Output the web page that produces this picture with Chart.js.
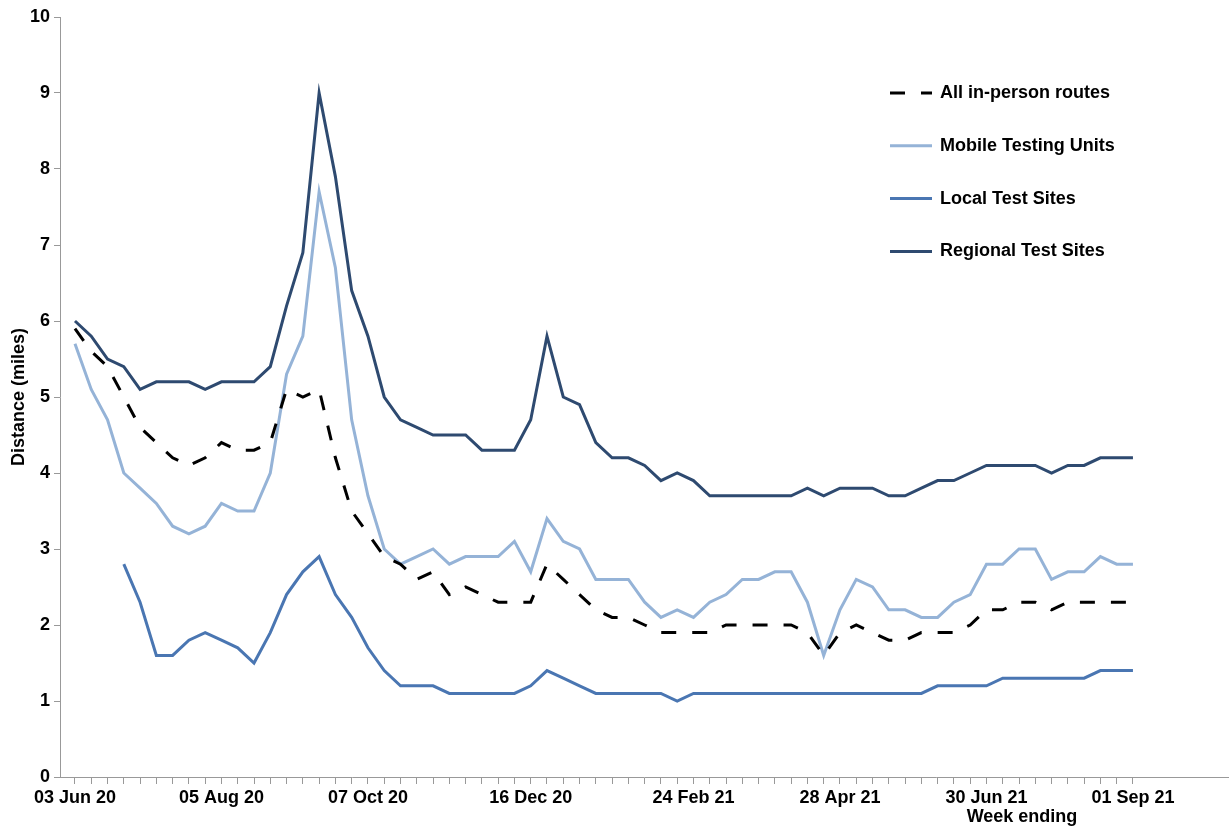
<!DOCTYPE html>
<html>
<head>
<meta charset="utf-8">
<script src="https://cdn.jsdelivr.net/npm/chart.js@4.4.1/dist/chart.umd.min.js"></script>
<style>
  html, body { margin: 0; padding: 0; background: #fff; }
  #wrap { width: 1229px; height: 827px; }
</style>
</head>
<body>
<div id="wrap"><canvas id="lineChart" width="1229" height="827"></canvas></div>
<script>
// Week ending dates (one point per week)
var weeks = [
  '03 Jun 20', '10 Jun 20', '17 Jun 20', '24 Jun 20', '01 Jul 20', '08 Jul 20', '15 Jul 20', '22 Jul 20', '29 Jul 20', '05 Aug 20',
  '12 Aug 20', '19 Aug 20', '26 Aug 20', '02 Sep 20', '09 Sep 20', '16 Sep 20', '23 Sep 20', '30 Sep 20', '07 Oct 20', '14 Oct 20',
  '21 Oct 20', '28 Oct 20', '04 Nov 20', '11 Nov 20', '18 Nov 20', '25 Nov 20', '02 Dec 20', '09 Dec 20', '16 Dec 20', '23 Dec 20',
  '30 Dec 20', '06 Jan 21', '13 Jan 21', '20 Jan 21', '27 Jan 21', '03 Feb 21', '10 Feb 21', '17 Feb 21', '24 Feb 21', '03 Mar 21',
  '10 Mar 21', '17 Mar 21', '24 Mar 21', '31 Mar 21', '07 Apr 21', '14 Apr 21', '21 Apr 21', '28 Apr 21', '05 May 21', '12 May 21',
  '19 May 21', '26 May 21', '02 Jun 21', '09 Jun 21', '16 Jun 21', '23 Jun 21', '30 Jun 21', '07 Jul 21', '14 Jul 21', '21 Jul 21',
  '28 Jul 21', '04 Aug 21', '11 Aug 21', '18 Aug 21', '25 Aug 21', '01 Sep 21'
];
var shownWeeks = ['03 Jun 20', '05 Aug 20', '07 Oct 20', '16 Dec 20', '24 Feb 21', '28 Apr 21', '30 Jun 21', '01 Sep 21'];

// Median distance (miles)
var allRoutes = [
  5.9, 5.6, 5.4, 5.0, 4.6, 4.4, 4.2, 4.1, 4.2, 4.4,
  4.3, 4.3, 4.4, 5.1, 5.0, 5.1, 4.2, 3.5, 3.2, 2.9,
  2.8, 2.6, 2.7, 2.4, 2.5, 2.4, 2.3, 2.3, 2.3, 2.8,
  2.6, 2.4, 2.2, 2.1, 2.1, 2.0, 1.9, 1.9, 1.9, 1.9,
  2.0, 2.0, 2.0, 2.0, 2.0, 1.9, 1.6, 1.9, 2.0, 1.9,
  1.8, 1.8, 1.9, 1.9, 1.9, 2.0, 2.2, 2.2, 2.3, 2.3,
  2.2, 2.3, 2.3, 2.3, 2.3, 2.3
];
var mobileUnits = [
  5.7, 5.1, 4.7, 4.0, 3.8, 3.6, 3.3, 3.2, 3.3, 3.6,
  3.5, 3.5, 4.0, 5.3, 5.8, 7.7, 6.7, 4.7, 3.7, 3.0,
  2.8, 2.9, 3.0, 2.8, 2.9, 2.9, 2.9, 3.1, 2.7, 3.4,
  3.1, 3.0, 2.6, 2.6, 2.6, 2.3, 2.1, 2.2, 2.1, 2.3,
  2.4, 2.6, 2.6, 2.7, 2.7, 2.3, 1.6, 2.2, 2.6, 2.5,
  2.2, 2.2, 2.1, 2.1, 2.3, 2.4, 2.8, 2.8, 3.0, 3.0,
  2.6, 2.7, 2.7, 2.9, 2.8, 2.8
];
var localSites = [
  null, null, null, 2.8, 2.3, 1.6, 1.6, 1.8, 1.9, 1.8,
  1.7, 1.5, 1.9, 2.4, 2.7, 2.9, 2.4, 2.1, 1.7, 1.4,
  1.2, 1.2, 1.2, 1.1, 1.1, 1.1, 1.1, 1.1, 1.2, 1.4,
  1.3, 1.2, 1.1, 1.1, 1.1, 1.1, 1.1, 1.0, 1.1, 1.1,
  1.1, 1.1, 1.1, 1.1, 1.1, 1.1, 1.1, 1.1, 1.1, 1.1,
  1.1, 1.1, 1.1, 1.2, 1.2, 1.2, 1.2, 1.3, 1.3, 1.3,
  1.3, 1.3, 1.3, 1.4, 1.4, 1.4
];
var regionalSites = [
  6.0, 5.8, 5.5, 5.4, 5.1, 5.2, 5.2, 5.2, 5.1, 5.2,
  5.2, 5.2, 5.4, 6.2, 6.9, 9.0, 7.9, 6.4, 5.8, 5.0,
  4.7, 4.6, 4.5, 4.5, 4.5, 4.3, 4.3, 4.3, 4.7, 5.8,
  5.0, 4.9, 4.4, 4.2, 4.2, 4.1, 3.9, 4.0, 3.9, 3.7,
  3.7, 3.7, 3.7, 3.7, 3.7, 3.8, 3.7, 3.8, 3.8, 3.8,
  3.7, 3.7, 3.8, 3.9, 3.9, 4.0, 4.1, 4.1, 4.1, 4.1,
  4.0, 4.1, 4.1, 4.2, 4.2, 4.2
];

var FONT = '"Liberation Sans", Arial, sans-serif';

function points(values) {
  return values.map(function (v, i) { return { x: i, y: v }; });
}

// legend drawn inside the plot, top right
var insideLegend = {
  id: 'insideLegend',
  afterDraw: function (chart) {
    var ctx = chart.ctx;
    ctx.save();
    chart.data.datasets.forEach(function (ds, k) {
      var y = 93 + k * 52.8;
      ctx.beginPath();
      ctx.lineWidth = ds.borderWidth;
      ctx.strokeStyle = ds.borderColor;
      ctx.setLineDash(ds.borderDash || []);
      ctx.moveTo(890, y);
      ctx.lineTo(932, y);
      ctx.stroke();
      ctx.setLineDash([]);
      ctx.fillStyle = '#000';
      ctx.font = 'bold 18px ' + FONT;
      ctx.textBaseline = 'middle';
      ctx.textAlign = 'left';
      ctx.fillText(ds.label, 940, y);
    });
    // x axis title
    ctx.font = 'bold 18px ' + FONT;
    ctx.textAlign = 'center';
    ctx.fillText('Week ending', 1022, 817);
    ctx.restore();
  }
};

var ctxL = document.getElementById('lineChart').getContext('2d');
var lineChart = new Chart(ctxL, {
  type: 'line',
  data: {
    datasets: [{
      label: 'All in-person routes',
      data: points(allRoutes),
      borderColor: '#000000',
      borderWidth: 3,
      borderDash: [15, 16]
    }, {
      label: 'Mobile Testing Units',
      data: points(mobileUnits),
      borderColor: '#95b3d7',
      borderWidth: 3
    }, {
      label: 'Local Test Sites',
      data: points(localSites),
      borderColor: '#4a76b2',
      borderWidth: 3
    }, {
      label: 'Regional Test Sites',
      data: points(regionalSites),
      borderColor: '#2e4a70',
      borderWidth: 3
    }]
  },
  options: {
    responsive: false,
    animation: false,
    devicePixelRatio: 1,
    layout: { padding: { top: 17, right: 1, left: 0, bottom: 0 } },
    elements: { point: { radius: 0 }, line: { tension: 0, fill: false } },
    plugins: { legend: { display: false }, tooltip: { enabled: false } },
    scales: {
      x: {
        type: 'linear',
        min: -0.92,
        max: 70.84,
        afterBuildTicks: function (scale) {
          scale.ticks = weeks.map(function (w, i) { return { value: i }; });
        },
        afterFit: function (scale) { scale.height = 50; },
        ticks: {
          autoSkip: false,
          maxRotation: 0,
          padding: 3,
          color: '#000',
          font: { family: FONT, size: 18, weight: 'bold' },
          callback: function (value) {
            var w = weeks[value];
            return shownWeeks.indexOf(w) >= 0 ? w : '';
          }
        },
        grid: { drawOnChartArea: false, tickLength: 7, color: '#999' },
        border: { color: '#999' }
      },
      y: {
        min: 0,
        max: 10,
        afterFit: function (scale) { scale.width = 60; },
        ticks: {
          stepSize: 1,
          padding: 4,
          color: '#000',
          font: { family: FONT, size: 18, weight: 'bold' }
        },
        title: {
          display: true,
          text: 'Distance (miles)',
          color: '#000',
          padding: { top: 8, bottom: 0 },
          font: { family: FONT, size: 18, weight: 'bold' }
        },
        grid: { drawOnChartArea: false, tickLength: 6, color: '#999' },
        border: { color: '#999' }
      }
    }
  },
  plugins: [insideLegend]
});
</script>
</body>
</html>
